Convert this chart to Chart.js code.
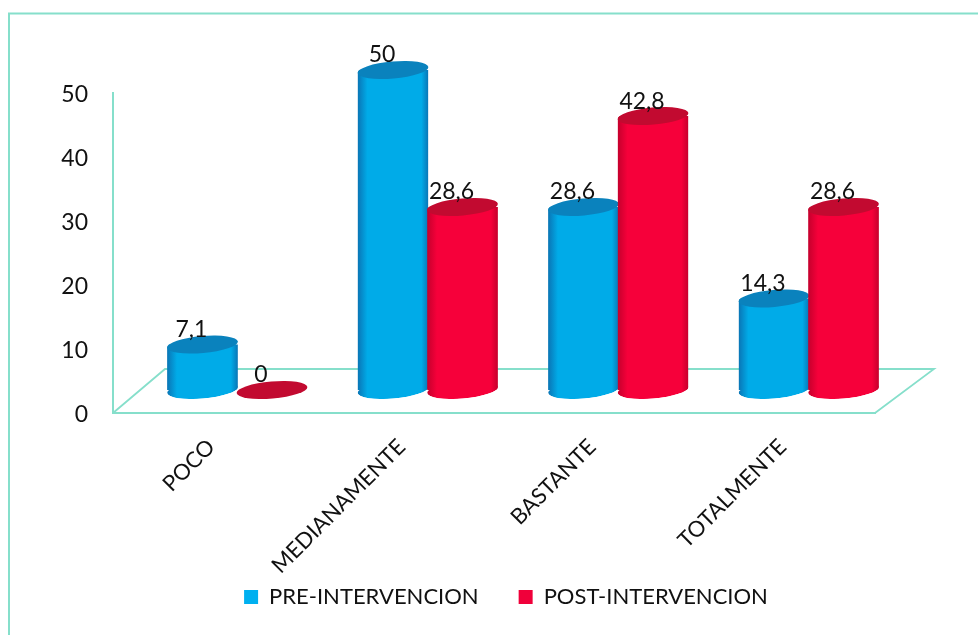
<!DOCTYPE html>
<html><head><meta charset="utf-8">
<style>html,body{margin:0;padding:0;background:#fff}canvas{display:block;filter:blur(0.4px)}</style>
<script src="https://cdn.jsdelivr.net/npm/chart.js@4"></script>
</head><body><canvas id="c" width="978" height="635"></canvas>
<script>
const categories = ['POCO','MEDIANAMENTE','BASTANTE','TOTALMENTE'];
const preValues = [7.1,50,28.6,14.3];
const postValues = [0,28.6,42.8,28.6];
const yTicks = [0,10,20,30,40,50];
const seriesNames = ['PRE-INTERVENCION','POST-INTERVENCION'];
const FONT = 'Lato';
const LINE = '#86dfcb';
const DX = 29, DY = -23, RX = 35.5, RY = 8.5, TILT = -5*Math.PI/180;
const looks = [
 {edge:'#0a74b4', mid:'#00abe8', top:'#0a82bd', key:'#00b0f0'},
 {edge:'#c4002c', mid:'#f6003a', top:'#c20a30', key:'#f0003a'}
];
function bodyFill(ctx, look, x){
  const g = ctx.createLinearGradient(x-RX,0,x+RX,0);
  g.addColorStop(0,look.edge);g.addColorStop(.14,look.mid);g.addColorStop(.9,look.mid);g.addColorStop(1,look.edge);
  return g;
}
function paintCylinders(chart,index){
  const {ctx}=chart;
  const meta=chart.getDatasetMeta(index);
  const look=looks[index];
  ctx.save();
  ctx.translate(DX,DY);
  // The library's bars, trimmed to a cylinder outline; the bottom is the lower half of an ellipse.
  ctx.save();
  ctx.beginPath();
  meta.data.forEach(b=>{
    b.options=Object.assign({},b.options,{backgroundColor:bodyFill(ctx,look,b.x)});
    if(b.base-b.y<0.5) return;
    ctx.moveTo(b.x-RX*Math.cos(TILT),b.y-RX*Math.sin(TILT));
    ctx.ellipse(b.x,b.y,RX,RY,TILT,Math.PI,Math.PI*2);
    ctx.ellipse(b.x,b.base,RX,RY,TILT,0,Math.PI);
    ctx.closePath();
  });
  ctx.clip();
  meta.data.forEach(b=>{
    if(b.base-b.y<0.5) return;
    ctx.fillStyle=b.options.backgroundColor;
    ctx.beginPath();ctx.ellipse(b.x,b.base,RX,RY,TILT,0,Math.PI*2);ctx.fill();
  });
  meta.controller.draw();
  ctx.restore();
  meta.data.forEach(b=>{
    ctx.fillStyle=look.top;
    ctx.beginPath();ctx.ellipse(b.x,b.y,RX,RY,TILT,0,Math.PI*2);ctx.fill();
  });
  ctx.restore();
}
const cyl = {
  id:'cyl',
  beforeDraw(chart){
    const {ctx,chartArea:a} = chart;
    ctx.save();
    ctx.strokeStyle=LINE;ctx.lineWidth=2;
    ctx.beginPath();ctx.moveTo(9,635);ctx.lineTo(9,13.5);ctx.lineTo(978,13.5);ctx.stroke();
    ctx.lineWidth=1.8;
    ctx.beginPath();
    ctx.moveTo(a.left,a.bottom);
    ctx.lineTo(a.left+52,a.bottom-44);
    ctx.lineTo(a.right+59,a.bottom-44);
    ctx.lineTo(a.right,a.bottom);
    ctx.stroke();
    ctx.restore();
  },
  afterLayout(chart){
    const l=chart.legend;
    l.left+=68.5; l.right+=68.5;
    const h=l.bottom-l.top;
    l.top=597-40-11; l.bottom=l.top+h;
  },
  // Blue first, red over it, while keeping blue on the left of each pair.
  beforeDatasetsDraw(chart){ paintCylinders(chart,0); paintCylinders(chart,1); },
  beforeDatasetDraw(){ return false; },
  afterDatasetsDraw(chart){
    const {ctx}=chart;
    ctx.save();
    ctx.font='23px '+FONT;ctx.fillStyle='#111';ctx.textAlign='center';ctx.textBaseline='middle';
    chart.data.datasets.forEach((ds,i)=>{
      chart.getDatasetMeta(i).data.forEach((b,j)=>{
        ctx.fillText(String(ds.data[j]).replace('.',','),b.x+DX-11,b.y+DY-15);
      });
    });
    ctx.restore();
  }
};
const mk=(i,data)=>({
  label:seriesNames[i],data,clip:false,
  backgroundColor:looks[i].key,
  borderWidth:0,categoryPercentage:.73,barPercentage:1.02
});
new Chart(document.getElementById('c'),{
  type:'bar',
  data:{labels:categories,datasets:[mk(0,preValues),mk(1,postValues)]},
  options:{
    responsive:false,animation:false,
    layout:{padding:{top:93,right:103,left:0,bottom:-30}},
    plugins:{
      tooltip:{enabled:false},
      legend:{position:'bottom',
        labels:{boxWidth:14,boxHeight:14,padding:40,color:'#111',font:{family:FONT,size:22},
          generateLabels(chart){
            return chart.data.datasets.map((d,i)=>({text:d.label,fillStyle:looks[i].key,strokeStyle:looks[i].key,lineWidth:0,datasetIndex:i,fontColor:'#111'}));
          }}}
    },
    scales:{
      x:{grid:{display:false},border:{color:LINE,width:2},
        ticks:{color:'#111',font:{family:FONT,size:22},minRotation:45,maxRotation:45,padding:13,labelOffset:3,autoSkip:false},
        afterFit(s){s.height=180;}},
      y:{min:0,max:50,afterBuildTicks(s){s.ticks=yTicks.map(v=>({value:v}));},
        grid:{display:false,drawTicks:false},border:{color:LINE,width:2},
        ticks:{color:'#111',font:{family:FONT,size:23},padding:25,labelOffset:2},
        afterFit(s){s.width=113;}}
    }
  },
  plugins:[cyl]
});
</script></body></html>
